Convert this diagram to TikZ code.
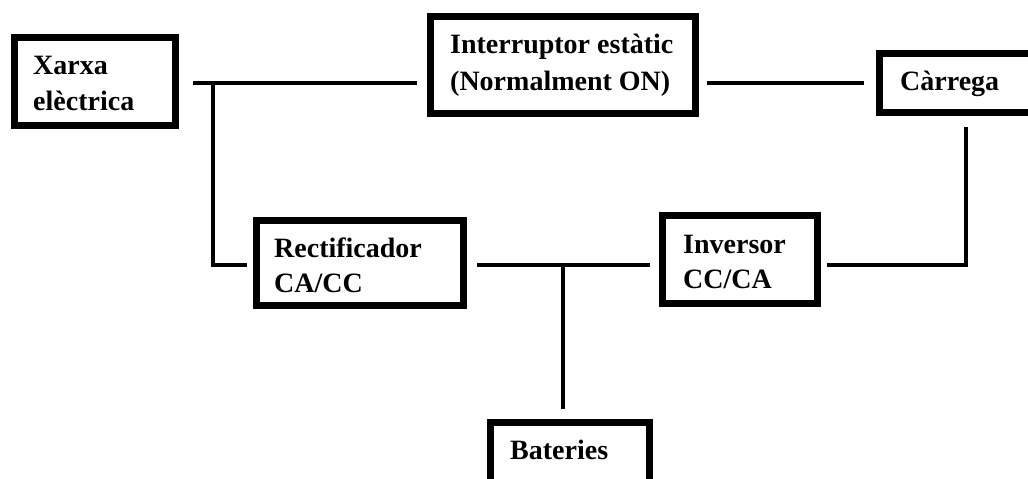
\documentclass[tikz,border=0pt]{standalone}
\usepackage{fontspec}
\setmainfont{Liberation Serif}
\begin{document}
\begin{tikzpicture}[x=1pt,y=-1pt,
  box/.style={draw,line width=7pt,rectangle,inner sep=0pt,outer sep=0pt,anchor=north west},
  lbl/.style={anchor=base west,inner sep=0pt,font=\fontsize{28}{36}\selectfont\bfseries},
  conn/.style={line width=4.8pt,line join=miter}]
\useasboundingbox (0,0) rectangle (1028,479);
\clip (0,0) rectangle (1028,479);
% boxes
\node[box,minimum width=161pt,minimum height=88pt] (xarxa) at (14.5,37.5) {};
\node[box,minimum width=265pt,minimum height=97pt] (intr) at (430.5,16.5) {};
\node[box,minimum width=170pt,minimum height=59pt] (carr) at (879.5,53.5) {};
\node[box,minimum width=207pt,minimum height=85pt] (rect) at (256.5,220.5) {};
\node[box,minimum width=155pt,minimum height=88pt] (inv) at (662.5,215.5) {};
\node[box,minimum width=159pt,minimum height=80pt] (bat) at (490.5,422.5) {};
% labels
\node[lbl] (t1a) at (33,74) {Xarxa};
\node[lbl] (t1b) at (33,110) {elèctrica};
\node[lbl] (t2a) at (450,53) {Interruptor estàtic};
\node[lbl] (t2b) at (450,90) {(Normalment ON)};
\node[lbl] (t3) at (900,90) {Càrrega};
\node[lbl] (t4a) at (274,257) {Rectificador};
\node[lbl] (t4b) at (274,292) {CA/CC};
\node[lbl] (t5a) at (683,253) {Inversor};
\node[lbl] (t5b) at (683,288) {CC/CA};
\node[lbl] (t6) at (510,459) {Bateries};
% junctions
\coordinate (j1) at (213,83);
\coordinate (j3) at (563,265);
\coordinate (c1) at (966,127);
% connectors
\draw[conn] ([xshift=17.5pt]xarxa.east |- j1) -- ([xshift=-14pt]intr.west |- j1);
\draw[conn] (j1) |- ([xshift=-9.5pt]rect.west |- j3);
\draw[conn] ([xshift=11.5pt]intr.east |- j1) -- ([xshift=-15.5pt]carr.west |- j1);
\draw[conn] (c1) |- ([xshift=9.5pt]inv.east |- j3);
\draw[conn] ([xshift=13.5pt]rect.east |- j3) -- ([xshift=-12.5pt]inv.west |- j3);
\draw[conn] (j3) -- ([yshift=13.5pt]bat.north -| j3);
\end{tikzpicture}
\end{document}
